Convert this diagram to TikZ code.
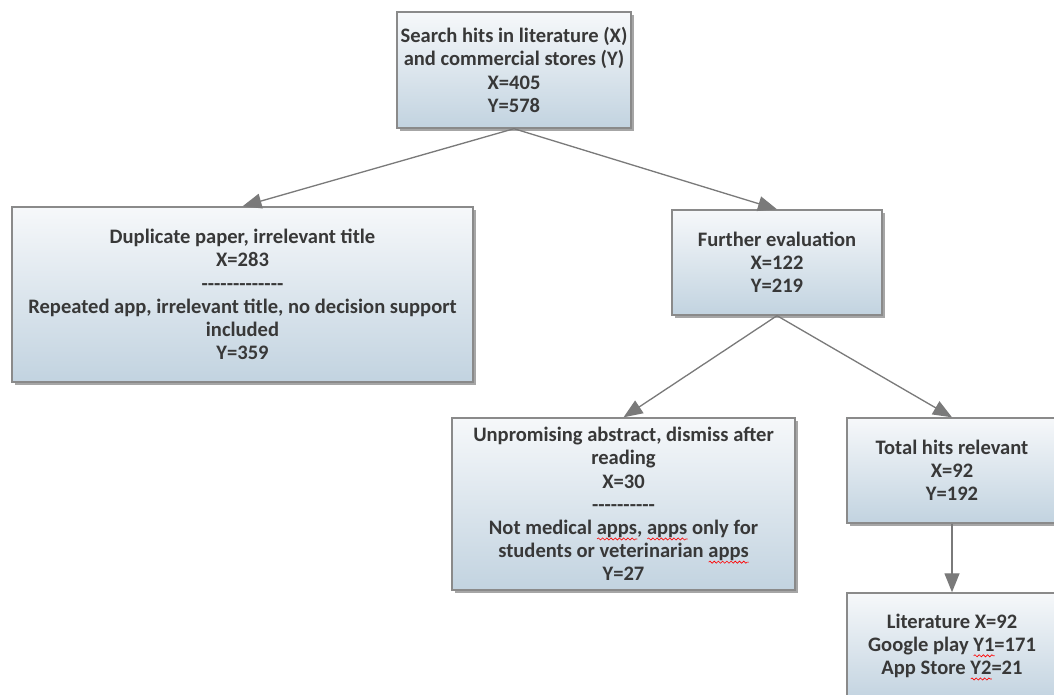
\documentclass[tikz,border=0pt]{standalone}
\usepackage{fontspec}
\setmainfont{Carlito}
\usetikzlibrary{arrows.meta,shadows,decorations.pathmorphing}
\definecolor{boxtop}{HTML}{F6F8FA}
\definecolor{boxbottom}{HTML}{C2D3E0}
\definecolor{boxline}{HTML}{8A8A8A}
\definecolor{arrowgrey}{HTML}{7A7A7A}
\definecolor{textgrey}{HTML}{383838}
\newlength\wavelen
\newcommand\spellwave[1]{\settowidth\wavelen{#1}\rlap{\tikz[baseline=0pt]\draw[red,line width=0.35pt,decorate,decoration={snake,amplitude=0.6pt,segment length=2.4pt}] (0pt,-2.6pt) -- (\wavelen,-2.6pt);}#1}
\newcommand\dashrow[1]{\foreach \i in {1,...,#1}{-{}}}

\begin{document}
\begin{tikzpicture}
         [x=0.02cm,y=-0.02cm,node distance=3.53cm,
          >={Triangle[length=0.38cm,width=0.3cm]},
          box/.style={draw=boxline,line width=0.8pt,top color=boxtop,bottom color=boxbottom,
            drop shadow={shadow xshift=0.06cm,shadow yshift=-0.06cm,fill=black,opacity=0.35},
            text=textgrey,font=\fontsize{11.7}{13.2}\selectfont\bfseries,align=center,inner sep=0pt},
          link/.style={->,color=arrowgrey,line width=0.75pt}]
         \useasboundingbox (0,0) rectangle (1054,694);
         \node (hits) [box,minimum width=4.68cm,minimum height=2.32cm] at (514,70)
            {Search hits in literature (X)\\and commercial stores (Y)\\X=405\\Y=578};
         \node (dup) [box,minimum width=9.22cm,minimum height=3.5cm] at (242.5,294.5)
            {Duplicate paper, irrelevant title\\X=283\\\dashrow{13}\\Repeated app, irrelevant title, no decision support\\included\\Y=359};
         \node (eval) [box,minimum width=4.2cm,minimum height=2.1cm] at (777,262.5)
            {Further evaluation\\X=122\\Y=219};
         \node (unprom) [box,minimum width=6.86cm,minimum height=3.44cm] at (623.5,504)
            {Unpromising abstract, dismiss after\\reading\\X=30\\\dashrow{10}\\Not medical \spellwave{apps}, \spellwave{apps} only for\\students or veterinarian \spellwave{apps}\\Y=27};
         \node (rel) [box,minimum width=4.2cm,minimum height=2.1cm] at (952,470.5)
            {Total hits relevant\\X=92\\Y=192};
         \node (lit) [box,minimum width=4.2cm,minimum height=2.16cm,below of=rel]
            {Literature X=92\\Google play \spellwave{Y1}=171\\App Store \spellwave{Y2}=21};

         \draw[link] (hits.south) -- (dup.north);
         \draw[link] (hits.south) -- (eval.north);
         \draw[link] (eval.south) -- (unprom.north);
         \draw[link] (eval.south) -- (rel.north);
         \draw[link] (rel.south) -- (lit.north);
\end{tikzpicture}
\end{document}
